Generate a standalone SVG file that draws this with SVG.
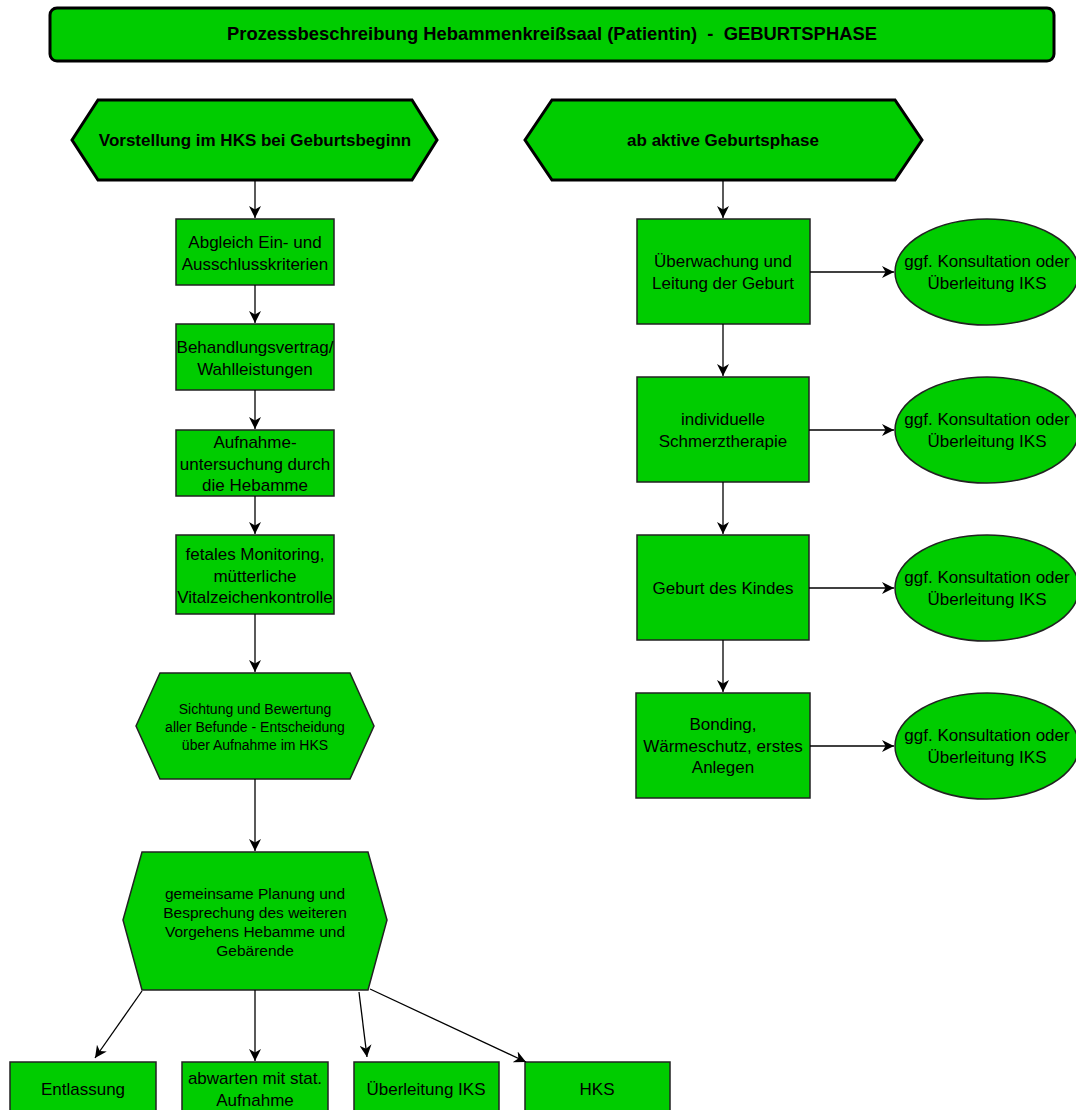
<svg xmlns="http://www.w3.org/2000/svg" width="1076" height="1110" viewBox="0 0 1076 1110">
<style>
.n{fill:#00CC00;stroke:#222;stroke-width:1.5}
.h{fill:#00CC00;stroke:#000;stroke-width:3}
.t{font-family:"Liberation Sans",Arial,sans-serif;font-size:17px;fill:#000;text-anchor:middle}
.s{font-size:14px}
.p{font-size:15.5px}
.b{font-weight:bold}
.c{fill:none;stroke:#000;stroke-width:1.3}
</style>
<defs>
<marker id="a" viewBox="0 0 10 10" refX="10" refY="5" markerWidth="12" markerHeight="12" markerUnits="userSpaceOnUse" orient="auto">
<path d="M0,0 L10,5 L0,10 L3,5 Z" fill="#000"/>
</marker>
</defs>
<rect width="1076" height="1110" fill="#fff"/>
<g id="title">
<rect class="h" x="50" y="8" width="1004" height="53" rx="7"/>
<text class="t b" x="552" y="40" xml:space="preserve" style="font-size:18.4px;white-space:pre">Prozessbeschreibung Hebammenkreißsaal (Patientin)  -  GEBURTSPHASE</text>
</g>
<g id="start-left">
<polygon class="h" points="72,140 98,100 412,100 437,140 412,180 98,180"/>
<text class="t b" x="255" y="146">Vorstellung im HKS bei Geburtsbeginn</text>
</g>
<g id="start-right">
<polygon class="h" points="525,140 552,100 895,100 922,140 895,180 552,180"/>
<text class="t b" x="723" y="146">ab aktive Geburtsphase</text>
</g>
<g id="abgleich">
<rect class="n" x="176" y="219" width="158" height="66"/>
<text class="t" x="255" y="248">Abgleich Ein- und</text>
<text class="t" x="255" y="270">Ausschlusskriterien</text>
</g>
<g id="vertrag">
<rect class="n" x="176" y="324" width="158" height="66"/>
<text class="t" x="255" y="353">Behandlungsvertrag/</text>
<text class="t" x="255" y="375">Wahlleistungen</text>
</g>
<g id="aufnahme">
<rect class="n" x="176" y="430" width="158" height="66"/>
<text class="t" x="255" y="448">Aufnahme-</text>
<text class="t" x="255" y="470">untersuchung durch</text>
<text class="t" x="255" y="491">die Hebamme</text>
</g>
<g id="monitoring">
<rect class="n" x="176" y="535" width="158" height="79"/>
<text class="t" x="255" y="560">fetales Monitoring,</text>
<text class="t" x="255" y="582">mütterliche</text>
<text class="t" x="255" y="603">Vitalzeichenkontrolle</text>
</g>
<g id="sichtung">
<polygon class="n" points="136,726 160,673 350,673 374,726 350,779 160,779"/>
<text class="t s" x="255" y="714">Sichtung und Bewertung</text>
<text class="t s" x="255" y="732">aller Befunde - Entscheidung</text>
<text class="t s" x="255" y="750">über Aufnahme im HKS</text>
</g>
<g id="planung">
<polygon class="n" points="123,920 142,852 368,852 387,920 368,990 142,990"/>
<text class="t p" x="255" y="899">gemeinsame Planung und</text>
<text class="t p" x="255" y="918">Besprechung des weiteren</text>
<text class="t p" x="255" y="937">Vorgehens Hebamme und</text>
<text class="t p" x="255" y="956">Gebärende</text>
</g>
<g id="entlassung">
<rect class="n" x="10" y="1062" width="146" height="60"/>
<text class="t" x="83" y="1095">Entlassung</text>
</g>
<g id="abwarten">
<rect class="n" x="182" y="1062" width="146" height="60"/>
<text class="t" x="255" y="1084">abwarten mit stat.</text>
<text class="t" x="255" y="1106">Aufnahme</text>
</g>
<g id="ueberleitung">
<rect class="n" x="354" y="1062" width="145" height="60"/>
<text class="t" x="426" y="1095">Überleitung IKS</text>
</g>
<g id="hks">
<rect class="n" x="525" y="1062" width="145" height="60"/>
<text class="t" x="597" y="1095">HKS</text>
</g>
<g id="ueberwachung">
<rect class="n" x="637" y="219" width="173" height="105"/>
<text class="t" x="723" y="267">Überwachung und</text>
<text class="t" x="723" y="289">Leitung der Geburt</text>
</g>
<g id="schmerz">
<rect class="n" x="637" y="377" width="172" height="105"/>
<text class="t" x="723" y="425">individuelle</text>
<text class="t" x="723" y="447">Schmerztherapie</text>
</g>
<g id="geburt">
<rect class="n" x="637" y="535" width="172" height="105"/>
<text class="t" x="723" y="594">Geburt des Kindes</text>
</g>
<g id="bonding">
<rect class="n" x="636" y="693" width="174" height="105"/>
<text class="t" x="723" y="730">Bonding,</text>
<text class="t" x="723" y="752">Wärmeschutz, erstes</text>
<text class="t" x="723" y="773">Anlegen</text>
</g>
<g id="iks1">
<ellipse class="n" cx="987" cy="272" rx="92" ry="53"/>
<text class="t" x="987" y="267">ggf. Konsultation oder</text>
<text class="t" x="987" y="289">Überleitung IKS</text>
</g>
<g id="iks2">
<ellipse class="n" cx="987" cy="430" rx="92" ry="53"/>
<text class="t" x="987" y="425">ggf. Konsultation oder</text>
<text class="t" x="987" y="447">Überleitung IKS</text>
</g>
<g id="iks3">
<ellipse class="n" cx="987" cy="588" rx="92" ry="53"/>
<text class="t" x="987" y="583">ggf. Konsultation oder</text>
<text class="t" x="987" y="605">Überleitung IKS</text>
</g>
<g id="iks4">
<ellipse class="n" cx="987" cy="746" rx="92" ry="53"/>
<text class="t" x="987" y="741">ggf. Konsultation oder</text>
<text class="t" x="987" y="763">Überleitung IKS</text>
</g>
<g id="connectors">
<path class="c" marker-end="url(#a)" d="M255,181 V218"/>
<path class="c" marker-end="url(#a)" d="M255,285 V323"/>
<path class="c" marker-end="url(#a)" d="M255,390 V429"/>
<path class="c" marker-end="url(#a)" d="M255,496 V534"/>
<path class="c" marker-end="url(#a)" d="M255,614 V672"/>
<path class="c" marker-end="url(#a)" d="M255,779 V851"/>
<path class="c" marker-end="url(#a)" d="M142,991 L95,1058"/>
<path class="c" marker-end="url(#a)" d="M255,990 V1061"/>
<path class="c" marker-end="url(#a)" d="M359,992 L367,1057"/>
<path class="c" marker-end="url(#a)" d="M370,989 L526,1062"/>
<path class="c" marker-end="url(#a)" d="M723,181 V218"/>
<path class="c" marker-end="url(#a)" d="M723,324 V376"/>
<path class="c" marker-end="url(#a)" d="M723,482 V534"/>
<path class="c" marker-end="url(#a)" d="M723,640 V692"/>
<path class="c" marker-end="url(#a)" d="M810,272 H894"/>
<path class="c" marker-end="url(#a)" d="M809,430 H894"/>
<path class="c" marker-end="url(#a)" d="M809,588 H894"/>
<path class="c" marker-end="url(#a)" d="M810,746 H894"/>
</g>
</svg>
